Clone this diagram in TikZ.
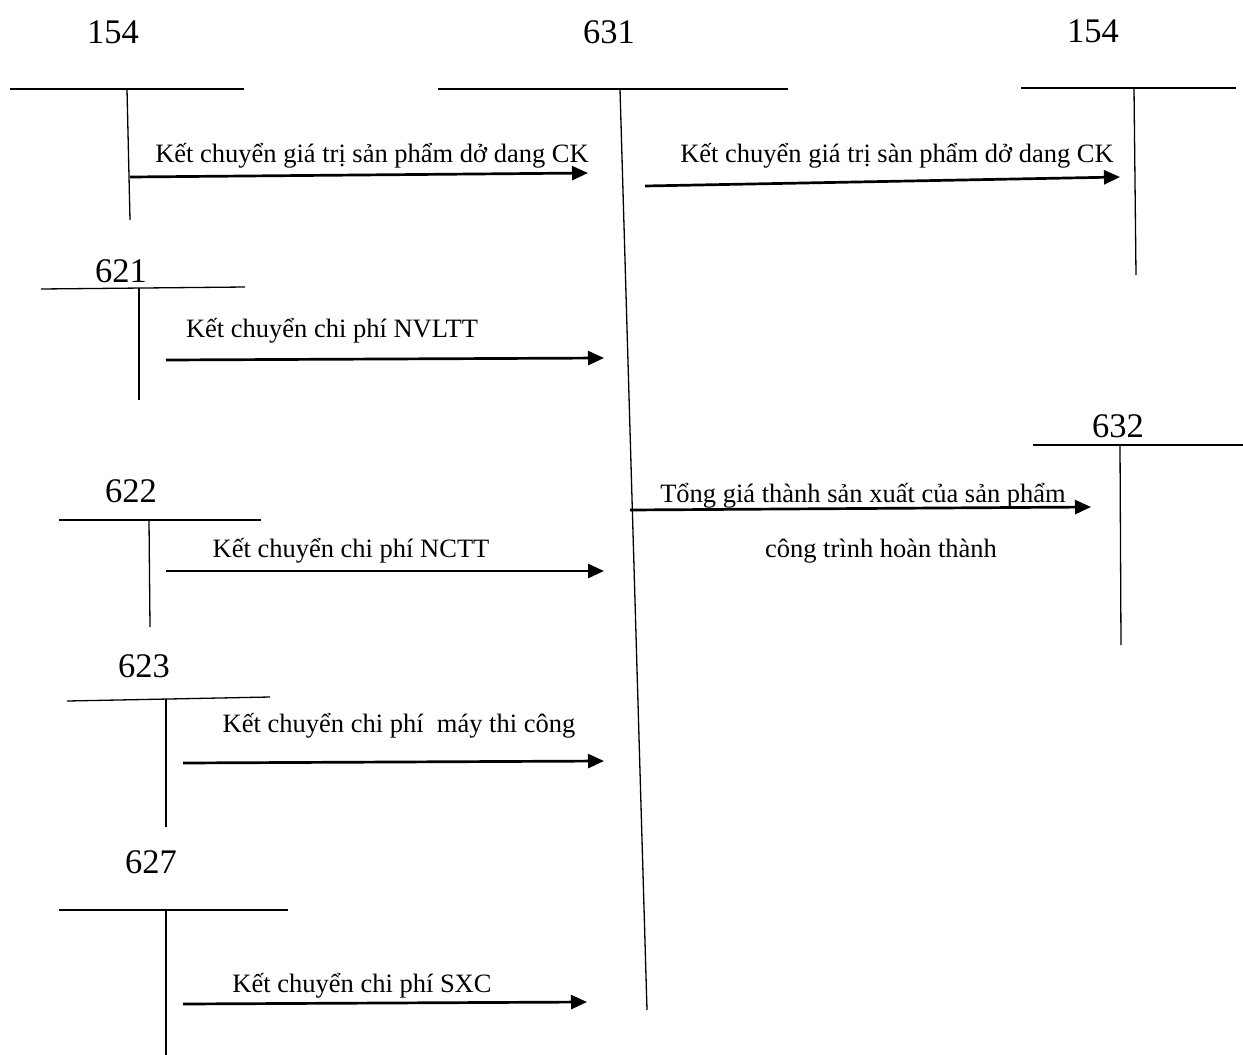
\documentclass[tikz,border=0pt]{standalone}
\usepackage{fontspec}
\setmainfont{Liberation Serif}
\usetikzlibrary{arrows.meta}

\begin{document}
\begin{tikzpicture}[
  x=0.5pt, y=-0.5pt,
  acc/.style={font=\fontsize{17.25}{20}\selectfont, anchor=base, inner sep=0pt},
  lbl/.style={font=\fontsize{13.25}{16}\selectfont, anchor=base, inner sep=0pt},
  tline/.style={line width=0.65pt},
  flow/.style={line width=1.35pt, -{Triangle[length=8pt, width=7pt]}}
]
\useasboundingbox (0,0) rectangle (1243,1055);

% T-accounts
\node[acc] (a154l) at (113,43) {154};
\draw[tline] (10,89) -- (244,89);
\draw[tline] (127,89) -- (130,220);

\node[acc] (a631) at (609,43) {631};
\draw[tline] (438,89) -- (788,89);
\draw[tline] (620,89) -- (647,1010);

\node[acc] (a154r) at (1093,42) {154};
\draw[tline] (1021,88) -- (1236,88);
\draw[tline] (1134,88) -- (1136,275);

\node[acc] (a621) at (121,282) {621};
\draw[tline] (41,289) -- (245,287);
\draw[tline] (139,288) -- (139,400);

\node[acc] (a622) at (131,502) {622};
\draw[tline] (59,520) -- (261,520);
\draw[tline] (149,520) -- (150,627);

\node[acc] (a623) at (144,677) {623};
\draw[tline] (67,701) -- (270,697);
\draw[tline] (166,699) -- (166,827);

\node[acc] (a627) at (151,873) {627};
\draw[tline] (59,910) -- (288,910);
\draw[tline] (166,910) -- (166,1055);

\node[acc] (a632) at (1118,437) {632};
\draw[tline] (1033,445) -- (1243,445);
\draw[tline] (1120,445) -- (1121,645);

% arrow ends
\coordinate (s1) at (130,177);  \coordinate (e1) at (588,173);
\coordinate (s2) at (645,186);  \coordinate (e2) at (1120,177);
\coordinate (s3) at (166,360);  \coordinate (e3) at (604,358);
\coordinate (s4) at (166,571);  \coordinate (e4) at (604,571);
\coordinate (s5) at (183,763);  \coordinate (e5) at (604,761);
\coordinate (s6) at (183,1004); \coordinate (e6) at (587,1002);
\coordinate (s7) at (630,510);  \coordinate (e7) at (1091,507);

\draw[flow] (s1) -- (e1);
\draw[flow] (s2) -- (e2);
\draw[flow] (s3) -- (e3);
\draw[flow] (s4) -- (e4);
\draw[flow] (s5) -- (e5);
\draw[flow] (s6) -- (e6);
\draw[flow] (s7) -- (e7);

% labels
\node[lbl] (l1) at (372,162) {Kết chuyển giá trị sản phẩm dở dang CK};
\node[lbl] (l2) at (897,162) {Kết chuyển giá trị sàn phẩm dở dang CK};
\node[lbl] (l3) at (332,337) {Kết chuyển chi phí NVLTT};
\node[lbl] (l4) at (351,557) {Kết chuyển chi phí NCTT};
\node[lbl] (l5) at (399,732) {Kết chuyển chi phí\ \ máy thi công};
\node[lbl] (l6) at (362,992) {Kết chuyển chi phí SXC};
\node[lbl] (l7) at (863,502) {Tổng giá thành sản xuất của sản phẩm};
\node[lbl] (l8) at (881,557) {công trình hoàn thành};

\end{tikzpicture}
\end{document}
